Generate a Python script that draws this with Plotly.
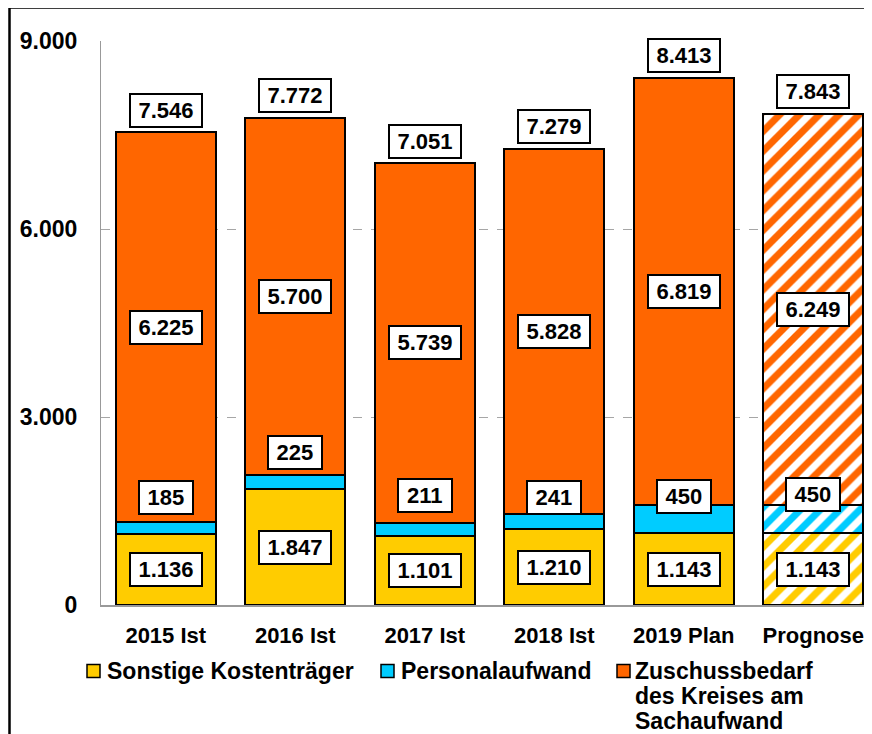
import plotly.graph_objects as go

# ---------------- data ----------------
categories = ["2015 Ist", "2016 Ist", "2017 Ist", "2018 Ist", "2019 Plan", "Prognose"]
sonstige = [1136, 1847, 1101, 1210, 1143, 1143]
personal = [185, 225, 211, 241, 450, 450]
zuschuss = [6225, 5700, 5739, 5828, 6819, 6249]
totals = [7546, 7772, 7051, 7279, 8413, 7843]
forecast = [False, False, False, False, False, True]
series_names = ["Sonstige Kostenträger", "Personalaufwand",
                "Zuschussbedarf<br>des Kreises am<br>Sachaufwand"]
y_ticks = [0, 3000, 6000, 9000]

# ---------------- styles / layout ----------------
colors = ["#FFCC00", "#00CCFF", "#FF6600"]
personal_label_shift = [25, 23, 27, 17, 9, 11]   # px above segment top
total_label_shift = 22
FONT = "Arial, 'Liberation Sans', sans-serif"
FS = 22          # data labels, category labels
FS_AX = 23       # y tick labels and legend
OFF = 8                      # page body margin of the html page
W, H = 872 - OFF, 734 - OFF
L, T = 101 - OFF, 41 - OFF
B = H - (605 - OFF)
R = 0
PW, PH = W - L - R, H - T - B
CAT_W = 129.5


def fmt(v):
    return f"{v:,}".replace(",", ".")


def px_x(px):   # screen pixel -> paper
    return (px - OFF - L) / PW


def px_y(py):
    return (T + PH - (py - OFF)) / PH


def text_w(s):
    return sum(0.278 if ch == "." else 0.556 for ch in s) * FS


fig = go.Figure()
series_vals = [sonstige, personal, zuschuss]
for name, vals, col in zip(series_names, series_vals, colors):
    fig.add_trace(go.Bar(
        x=categories, y=vals, name=name.replace("<br>", " "),
        marker=dict(
            color=col,
            line=dict(color="black", width=2),
            pattern=dict(shape=["/" if f else "" for f in forecast],
                         fgcolor=col, bgcolor="white", fgopacity=1, size=14,
                         solidity=0.5, fillmode="overlay"),
        ),
        showlegend=False,
    ))

annotations = []


def label(x, y, txt, yshift=0):
    annotations.append(dict(
        x=x, y=y, xref="x", yref="y", text=txt, showarrow=False,
        yshift=yshift, font=dict(family=FONT, size=FS, color="black", weight="bold"),
        bgcolor="white", bordercolor="black", borderwidth=2, borderpad=1,
        width=text_w(txt) + 13, height=29, align="center", valign="middle",
    ))


for i, c in enumerate(categories):
    s, p, z = sonstige[i], personal[i], zuschuss[i]
    label(c, s / 2, fmt(s))
    label(c, s + p, fmt(p), personal_label_shift[i])
    label(c, s + p + z / 2, fmt(z))
    label(c, totals[i], fmt(totals[i]), total_label_shift)

# legend (drawn manually)
legend_sq_x = [87, 381, 617]
legend_txt_x = [105, 399, 633]
legend_y = 671
line_h = 25
shapes = []
for name, col, sx, tx in zip(series_names, colors, legend_sq_x, legend_txt_x):
    shapes.append(dict(type="rect", xref="paper", yref="paper",
                       x0=px_x(sx), x1=px_x(sx + 13), y0=px_y(legend_y + 6.5), y1=px_y(legend_y - 6.5),
                       fillcolor=col, line=dict(color="black", width=1.5)))
    for k, line in enumerate(name.split("<br>")):
        annotations.append(dict(
            x=px_x(tx), y=px_y(legend_y + k * line_h), xref="paper", yref="paper",
            xanchor="left", yanchor="middle", text=line, showarrow=False,
            font=dict(family=FONT, size=FS_AX, color="black", weight="bold"),
        ))

# outer frame
shapes.append(dict(type="rect", xref="paper", yref="paper",
                   x0=px_x(9.5), x1=px_x(W + 40), y0=px_y(H + 40), y1=px_y(7.5),
                   line=dict(color="black", width=2.5), fillcolor="rgba(0,0,0,0)", layer="above"))

fig.update_layout(
    width=W, height=H,
    margin=dict(l=L, r=R, t=T, b=B, pad=0),
    barmode="stack", bargap=0.228,
    paper_bgcolor="white", plot_bgcolor="white",
    separators=",.",
    font=dict(family=FONT, size=FS, color="black", weight="bold"),
    annotations=annotations, shapes=shapes,
)
fig.update_xaxes(
    type="category", range=[-0.5, -0.5 + PW / CAT_W],
    showline=True, linecolor="#999999", linewidth=1.5,
    showgrid=False, ticks="", ticklabelstandoff=10,
    tickfont=dict(family=FONT, size=FS, color="black", weight="bold"),
)
fig.update_yaxes(
    range=[0, 9000], tickvals=y_ticks, tickformat=",d",
    showline=True, linecolor="#999999", linewidth=1,
    showgrid=True, gridcolor="#a6a6a6", griddash="dash", gridwidth=1,
    zeroline=False, ticks="", ticklabelstandoff=18,
    tickfont=dict(family=FONT, size=FS_AX, color="black", weight="bold"),
)

fig.write_html("out.html")
